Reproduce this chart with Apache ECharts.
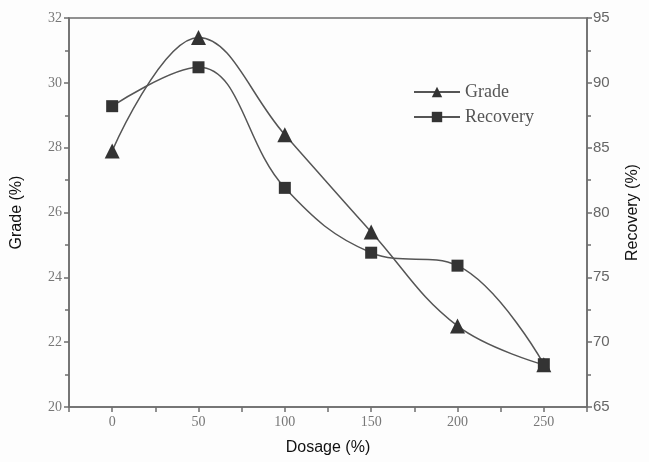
<!DOCTYPE html>
<html>
<head>
<meta charset="utf-8">
<script src="https://cdn.jsdelivr.net/npm/echarts@6/dist/echarts.min.js"></script>
<style>
  html, body { margin: 0; padding: 0; background: #fdfdfd; }
  #chart { width: 649px; height: 462px; }
</style>
</head>
<body>
<div id="chart"></div>
<script>
// dosage values on the x axis
var dosage = [0, 50, 100, 150, 200, 250];
// grade (%) - left axis
var grade = [27.9, 31.4, 28.4, 25.4, 22.5, 21.3];
// recovery (%) - right axis
var recovery = [88.2, 91.2, 81.9, 76.9, 75.9, 68.3];

function pairs(xs, ys) {
  return xs.map(function (x, i) { return [x, ys[i]]; });
}

var tickFont = { fontFamily: "Liberation Serif", fontSize: 14, color: "#777" };
var nameFont = { fontFamily: "Liberation Sans", fontSize: 16, color: "#111" };
var axisColor = "#6e6e6e";

var myChart = echarts.init(document.getElementById("chart"));
myChart.setOption({
  backgroundColor: "#fdfdfd",
  animation: false,
  grid: {
    left: 69, right: 54, top: 18, bottom: 55,
    show: true, borderColor: axisColor, borderWidth: 1.5
  },
  legend: {
    orient: "vertical",
    left: 408, top: 78,
    itemWidth: 46, itemHeight: 13, itemGap: 7,
    textStyle: { fontFamily: "Liberation Serif", fontSize: 18, color: "#555" },
    data: ["Grade", "Recovery"]
  },
  xAxis: {
    type: "value",
    min: -25, max: 275, interval: 25,
    name: "Dosage (%)",
    nameLocation: "middle", nameGap: 33,
    nameTextStyle: nameFont,
    splitLine: { show: false },
    axisLine: { onZero: false, lineStyle: { color: axisColor, width: 1.5 } },
    axisTick: { length: 5, lineStyle: { color: axisColor, width: 1.5 } },
    axisLabel: Object.assign({
      margin: 8,
      formatter: function (v) { return v % 50 === 0 ? String(v) : ""; }
    }, tickFont)
  },
  yAxis: [
    {
      type: "value",
      min: 20, max: 32, interval: 2,
      name: "Grade (%)",
      nameLocation: "middle", nameGap: 44,
      nameTextStyle: nameFont,
      splitLine: { show: false },
      axisLine: { show: true, onZero: false, lineStyle: { color: axisColor, width: 1.5 } },
      axisTick: { show: true, length: 5, lineStyle: { color: axisColor, width: 1.5 } },
      minorTick: { show: true, splitNumber: 2, length: 4, lineStyle: { color: axisColor, width: 1.5 } },
      axisLabel: Object.assign({ margin: 7 }, tickFont)
    },
    {
      type: "value",
      min: 65, max: 95, interval: 5,
      name: "Recovery (%)",
      nameLocation: "middle", nameGap: 38,
      nameTextStyle: nameFont,
      splitLine: { show: false },
      axisLine: { show: true, onZero: false, lineStyle: { color: axisColor, width: 1.5 } },
      axisTick: { show: true, length: 5, lineStyle: { color: axisColor, width: 1.5 } },
      minorTick: { show: true, splitNumber: 2, length: 4, lineStyle: { color: axisColor, width: 1.5 } },
      axisLabel: Object.assign({ margin: 6 }, tickFont, { fontFamily: "Liberation Sans", fontSize: 15, color: "#666" })
    }
  ],
  series: [
    {
      name: "Grade",
      type: "line",
      yAxisIndex: 0,
      smooth: 0.4,
      symbol: "triangle",
      symbolSize: 15,
      itemStyle: { color: "#333" },
      lineStyle: { color: "#555", width: 1.5 },
      data: pairs(dosage, grade)
    },
    {
      name: "Recovery",
      type: "line",
      yAxisIndex: 1,
      smooth: 0.4,
      symbol: "rect",
      symbolSize: 12,
      itemStyle: { color: "#333" },
      lineStyle: { color: "#555", width: 1.5 },
      data: pairs(dosage, recovery)
    }
  ]
});
window.onresize = function () { myChart.resize(); };
</script>
</body>
</html>
